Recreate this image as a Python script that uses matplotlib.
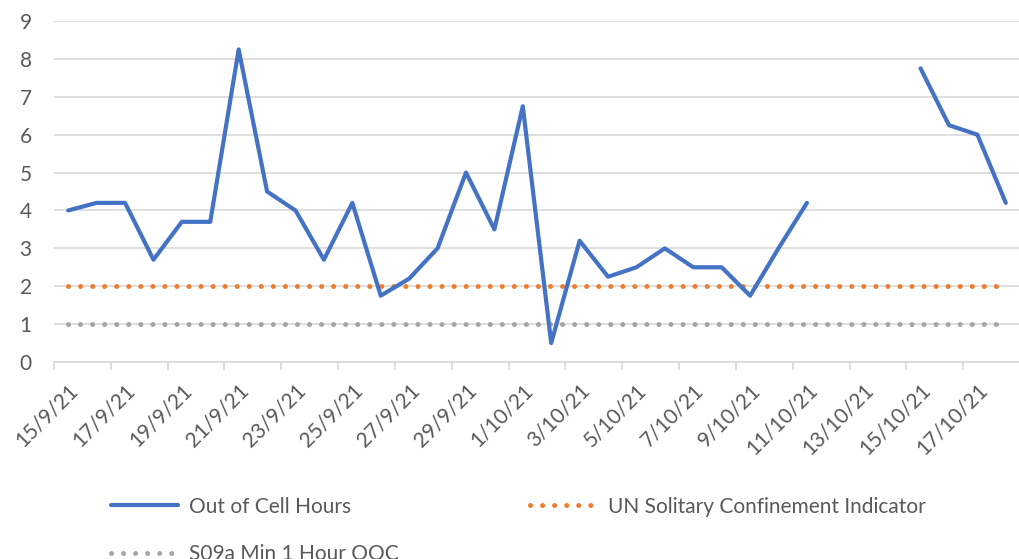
import matplotlib.pyplot as plt
import numpy as np
import pandas as pd

plt.rcParams['font.family'] = ['Lato', 'DejaVu Sans']

# daily categories 15/9/21 .. 18/10/21
dates = pd.date_range('2021-09-15', '2021-10-18', freq='D')
labels = [f"{d.day}/{d.month}/{d.strftime('%y')}" for d in dates]

ooc_hours = [4.0, 4.2, 4.2, 2.7, 3.7, 3.7, 8.25, 4.5, 4.0, 2.7,
             4.2, 1.75, 2.2, 3.0, 5.0, 3.5, 6.75, 0.5, 3.2, 2.25,
             2.5, 3.0, 2.5, 2.5, 1.75, 3.0, 4.2, np.nan, np.nan, np.nan,
             7.75, 6.25, 6.0, 4.2]
un_indicator = [2] * len(dates)
s09a_min = [1] * len(dates)

BLUE = '#4472C4'
ORANGE = '#ED7D31'
GREY = '#A5A5A5'
TEXT = '#595959'
GRID = '#D9D9D9'
FS = 15

fig = plt.figure(figsize=(10.2, 5.59), dpi=100)
ax = fig.add_axes([54/1020, 1 - 362/559, 966/1020, 341/559])

x = np.arange(len(dates))
dots = (0, (0.01, 2.4))
l1, = ax.plot(x, ooc_hours, color=BLUE, lw=3.0, solid_joinstyle='round',
              solid_capstyle='round', label='Out of Cell Hours', zorder=3)
l2, = ax.plot(x, un_indicator, color=ORANGE, lw=3.6, linestyle=dots,
              dash_capstyle='round', label='UN Solitary Confinement Indicator', zorder=2)
l3, = ax.plot(x, s09a_min, color=GREY, lw=3.6, linestyle=dots,
              dash_capstyle='round', label='S09a Min 1 Hour OOC', zorder=2)

ax.set_xlim(-0.5, len(dates) - 0.5)
ax.set_ylim(0, 9)
ax.set_yticks(range(10))
ax.grid(axis='y', color=GRID, lw=1.2)
ax.set_axisbelow(True)
for s in ['top', 'right', 'left']:
    ax.spines[s].set_visible(False)
ax.spines['bottom'].set_color(GRID)
ax.spines['bottom'].set_linewidth(1.2)

# tick marks between categories, labels on every second category
ax.set_xticks(np.arange(-0.5, len(dates), 2))
ax.set_xticklabels([])
ax.tick_params(axis='x', which='major', length=6, color=GRID, width=1.2)
ax.set_xticks(x[::2], minor=True)
ax.set_xticklabels(labels[::2], minor=True, rotation=45, ha='right',
                   rotation_mode='anchor', fontsize=FS, color=TEXT)
ax.tick_params(axis='x', which='minor', length=0, pad=13)
ax.tick_params(axis='y', length=0, labelsize=FS, labelcolor=TEXT, pad=16)

fig.legend([l1, l3, l2], [l1.get_label(), l3.get_label(), l2.get_label()],
           ncol=2, loc='upper left', bbox_to_anchor=(92/1020, 1 - 478/559),
           frameon=False, fontsize=FS, labelcolor=TEXT, handlelength=3.25,
           handletextpad=0.5, columnspacing=6.3, labelspacing=1.3)

fig.savefig('out.png', dpi=100)
